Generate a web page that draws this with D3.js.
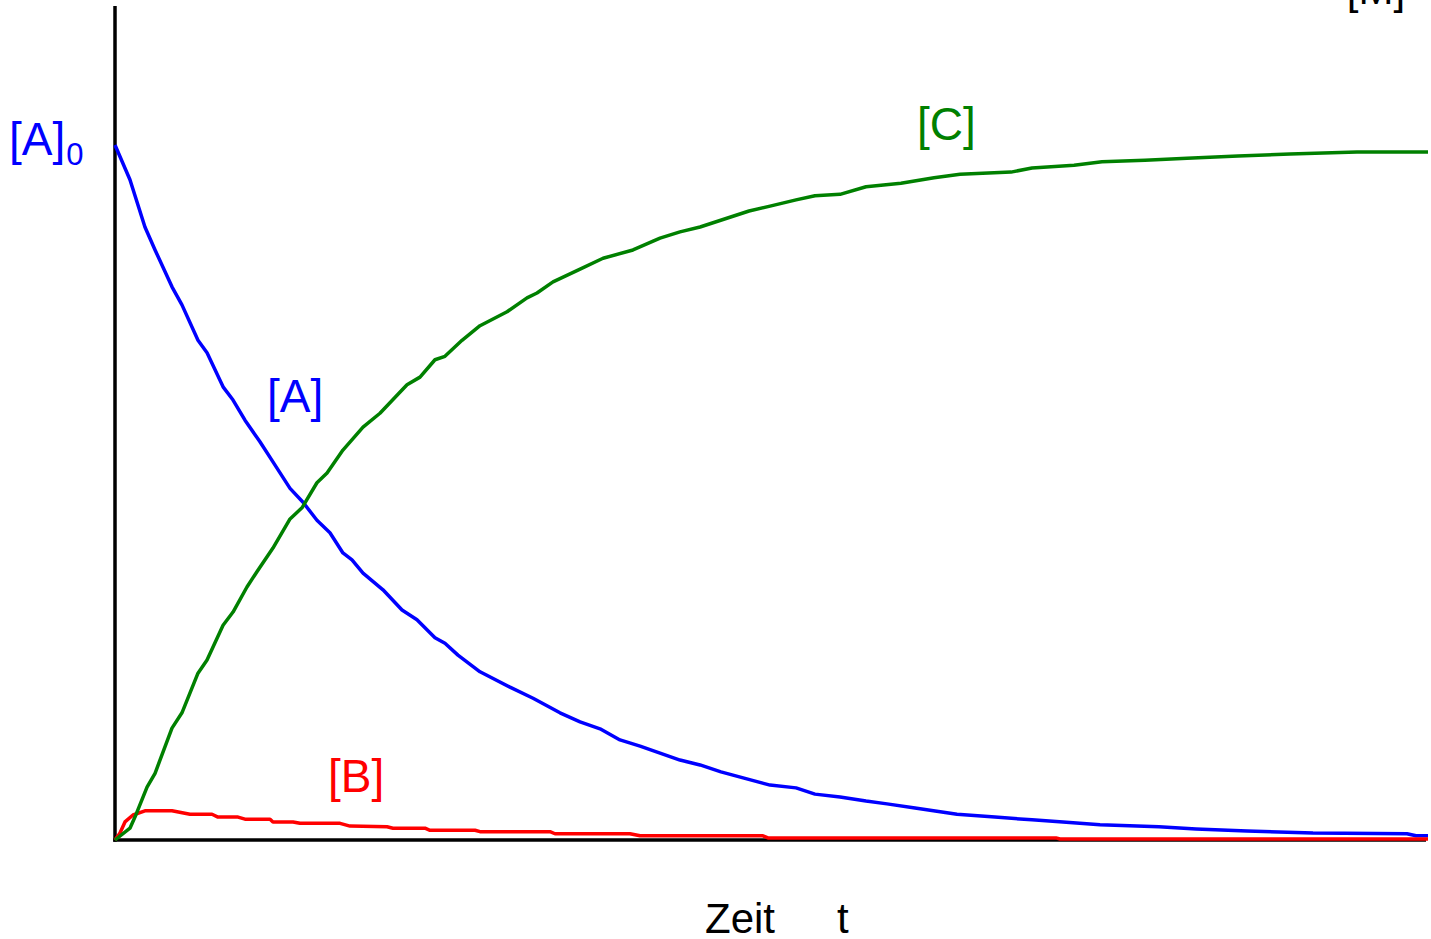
<!DOCTYPE html>
<html>
<head>
<meta charset="utf-8">
<script src="https://cdn.jsdelivr.net/npm/d3@7"></script>
<style>
  html, body { margin: 0; padding: 0; background: #ffffff; }
  svg { display: block; }
  text { font-family: "Liberation Sans", Arial, sans-serif; }
</style>
</head>
<body>
<svg id="chart" width="1431" height="939"></svg>
<script>
// Consecutive reaction A -> B -> C: concentrations relative to [A]0 over time t

// [A] : reactant
const timeA = [0, 1.14, 2.28, 3.05, 4.34, 5.10, 6.32, 7.01, 8.23, 8.99, 9.90, 11.04, 12.03, 13.33, 14.32,
  15.38, 16.37, 17.36, 18.05, 18.89, 20.41, 21.86, 23.00, 24.37, 25.13, 26.12, 27.80, 30.08, 31.84,
  33.89, 35.42, 36.94, 38.46, 39.99, 41.51, 43.03, 44.56, 46.15, 47.91, 49.89, 51.87, 53.31, 55.22,
  57.20, 58.80, 60.93, 64.13, 67.02, 69.84, 72.20, 75.02, 79.51, 82.33, 86.22, 91.24, 98.40, 99.09, 100];
const concA = [1.000, 0.950, 0.882, 0.849, 0.796, 0.770, 0.719, 0.701, 0.652, 0.633, 0.604, 0.573, 0.544,
  0.506, 0.486, 0.460, 0.442, 0.413, 0.403, 0.384, 0.360, 0.331, 0.317, 0.291, 0.283, 0.266, 0.242,
  0.220, 0.204, 0.183, 0.170, 0.160, 0.144, 0.135, 0.125, 0.115, 0.108, 0.098, 0.089, 0.079, 0.075,
  0.066, 0.062, 0.056, 0.052, 0.046, 0.037, 0.033, 0.029, 0.026, 0.022, 0.019, 0.016, 0.013, 0.010,
  0.009, 0.006, 0.006];

// [B] : intermediate
const timeB = [0, 0.38, 0.76, 1.37, 2.28, 4.34, 5.71, 7.39, 7.84, 9.37, 9.90, 11.81, 12.03, 13.56, 14.09,
  17.14, 17.90, 20.72, 21.17, 23.61, 23.99, 27.42, 27.80, 33.13, 33.51, 39.22, 39.99, 49.35, 49.73,
  71.67, 71.97, 100];
const concB = [0, 0.010, 0.026, 0.036, 0.042, 0.042, 0.037, 0.037, 0.033, 0.033, 0.030, 0.030, 0.026,
  0.026, 0.024, 0.024, 0.020, 0.019, 0.017, 0.017, 0.014, 0.014, 0.012, 0.012, 0.009, 0.009, 0.006,
  0.006, 0.003, 0.003, 0.0015, 0.0015];

// [C] : product
const timeC = [0, 1.14, 1.52, 2.44, 3.05, 4.34, 5.10, 6.32, 7.01, 8.23, 8.99, 10.05, 10.81, 12.03, 13.33,
  14.24, 15.38, 16.15, 17.36, 18.89, 20.18, 22.24, 23.23, 24.37, 25.13, 26.43, 27.80, 29.86, 31.38,
  32.14, 33.36, 35.26, 37.17, 39.45, 41.51, 43.03, 44.56, 48.29, 49.89, 51.87, 53.31, 55.22, 57.20,
  59.86, 62.38, 64.36, 68.24, 69.84, 73.04, 75.17, 78.45, 81.65, 85.53, 89.49, 94.59, 100];
const concC = [0, 0.017, 0.033, 0.076, 0.096, 0.161, 0.183, 0.240, 0.259, 0.309, 0.328, 0.364, 0.386,
  0.420, 0.462, 0.478, 0.514, 0.528, 0.561, 0.594, 0.614, 0.655, 0.666, 0.691, 0.696, 0.719, 0.740,
  0.760, 0.780, 0.787, 0.803, 0.820, 0.837, 0.849, 0.866, 0.875, 0.882, 0.905, 0.912, 0.921, 0.927,
  0.929, 0.940, 0.945, 0.953, 0.958, 0.961, 0.967, 0.971, 0.976, 0.978, 0.981, 0.984, 0.987, 0.990,
  0.990];

const seriesNames = ["[A]", "[B]", "[C]"];
const seriesColors = ["#0000ff", "#ff0000", "#008000"];

const svg = d3.select("#chart");
const W = 1431, H = 939;
const margin = { left: 115, right: 3, top: 145, bottom: 99 };

const x = d3.scaleLinear().domain([0, 100]).range([margin.left, W - margin.right]);
const y = d3.scaleLinear().domain([0, 1]).range([H - margin.bottom, margin.top]);

const line = d3.line().x(d => x(d[0])).y(d => y(d[1]));

// Axes: bare lines, no ticks
const axisColor = "#000000";
svg.append("line")
  .attr("x1", x(0)).attr("x2", x(0))
  .attr("y1", 6).attr("y2", y(0) + 1.75)
  .attr("stroke", axisColor).attr("stroke-width", 3.5);
svg.append("line")
  .attr("x1", x(0) - 1.75).attr("x2", x(100) - 2)
  .attr("y1", y(0)).attr("y2", y(0))
  .attr("stroke", axisColor).attr("stroke-width", 3.5);

// Curves
const series = [
  d3.zip(timeA, concA),
  d3.zip(timeB, concB),
  d3.zip(timeC, concC)
];
series.forEach((pts, i) => {
  svg.append("path")
    .datum(pts)
    .attr("fill", "none")
    .attr("stroke", seriesColors[i])
    .attr("stroke-width", 3.5)
    .attr("stroke-linejoin", "round")
    .attr("d", line);
});

// Curve labels
const labelSize = 46;
svg.append("text").attr("x", 267).attr("y", 412)
  .attr("font-size", labelSize).attr("fill", seriesColors[0]).text(seriesNames[0]);
svg.append("text").attr("x", 328).attr("y", 792)
  .attr("font-size", labelSize).attr("fill", seriesColors[1]).text(seriesNames[1]);
svg.append("text").attr("x", 917).attr("y", 140)
  .attr("font-size", labelSize).attr("fill", seriesColors[2]).text(seriesNames[2]);

// Initial concentration marker on the y axis
const a0 = svg.append("text").attr("x", 9).attr("y", 155)
  .attr("font-size", labelSize).attr("fill", seriesColors[0]);
a0.append("tspan").text("[A]");
a0.append("tspan").attr("font-size", 31).attr("dx", 1).attr("dy", 10).text("0");

// Axis titles
svg.append("text").attr("x", 1376).attr("y", 4)
  .attr("text-anchor", "middle")
  .attr("font-family", "'Liberation Serif', 'Times New Roman', serif")
  .attr("font-size", 42).attr("fill", "#000").text("[M]");
svg.append("text").attr("x", 705).attr("y", 933)
  .attr("font-size", 42).attr("fill", "#000").text("Zeit");
svg.append("text").attr("x", 837).attr("y", 933)
  .attr("font-size", 42).attr("fill", "#000").text("t");
</script>
</body>
</html>
